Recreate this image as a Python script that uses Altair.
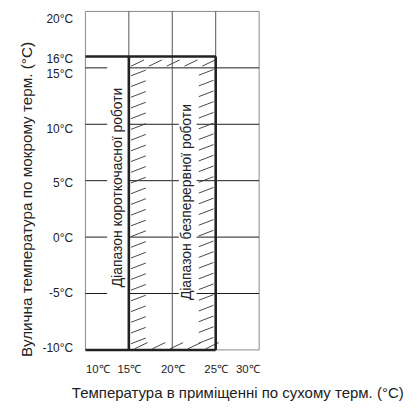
import altair as alt
import pandas as pd

# ---- data ----
x_ticks = [10, 15, 20, 25, 30]
y_ticks = [20, 16, 15, 10, 5, 0, -5, -10]
h_grid = [15, 10, 5, 0, -5]
v_grid = [15, 20, 25]
x_domain = [10, 30]
y_domain = [-10, 20]
short_range_x = [10, 15]      # short-term operation
cont_range_x = [15, 25]       # continuous operation (hatched)
range_y = [-10, 16]
range_labels = ["Діапазон короткочасної роботи", "Діапазон безперервної роботи"]
label_x = [13.77, 21.66]
label_y = [4.4, 3.1]
x_title = "Температура в приміщенні по сухому терм. (°C)"
y_title = "Вулична температура по мокрому терм. (°C)"

FONT = "Liberation Sans, Arial, sans-serif"

xs = alt.Scale(domain=x_domain, nice=False, zero=False)
ys = alt.Scale(domain=y_domain, nice=False, zero=False)

x_axis = alt.Axis(values=x_ticks, labelExpr="datum.value + '℃'", grid=False, domain=False,
                  ticks=False, labelPadding=14, labelFont=FONT, labelFontSize=11.5,
                  labelColor="#222", labelOverlap=False,
                  title=x_title, titleFont=FONT, titleFontSize=15.1,
                  titleFontWeight="normal", titleColor="#222", titleX=153, titleY=48,
                  titleAlign="center", titleBaseline="alphabetic", titleAngle=0)
y_axis = alt.Axis(values=y_ticks, labelExpr="datum.value + '°C'", grid=False, domain=False,
                  ticks=False, labelPadding=13, labelFont=FONT, labelFontSize=12,
                  labelColor="#222",
                  labelOffset={"expr": "datum.value == 16 ? 2 : 0.33*datum.value + 0.7"},
                  labelOverlap=False,
                  title=y_title, titleFont=FONT, titleFontSize=15.4,
                  titleFontWeight="normal", titleColor="#222", titleX=-54, titleY=189,
                  titleAlign="center", titleBaseline="alphabetic", titleAngle=270)

# segments
frame = pd.DataFrame([
    dict(x=x_domain[0], x2=x_domain[0], y=y_domain[0], y2=y_domain[1]),
    dict(x=x_domain[1], x2=x_domain[1], y=y_domain[0], y2=y_domain[1]),
    dict(x=x_domain[0], x2=x_domain[1], y=y_domain[1], y2=y_domain[1]),
    dict(x=x_domain[0], x2=x_domain[1], y=y_domain[0], y2=y_domain[0]),
])
hg = pd.DataFrame([dict(x=x_domain[0], x2=x_domain[1], y=v, y2=v) for v in h_grid])
vg = pd.DataFrame([dict(x=v, x2=v, y=y_domain[0], y2=y_domain[1]) for v in v_grid])
thick = pd.DataFrame([
    dict(x=short_range_x[0], x2=cont_range_x[1], y=range_y[1], y2=range_y[1]),
    dict(x=short_range_x[0], x2=cont_range_x[1], y=range_y[0], y2=range_y[0]),
    dict(x=cont_range_x[0], x2=cont_range_x[0], y=range_y[0], y2=range_y[1]),
    dict(x=cont_range_x[1], x2=cont_range_x[1], y=range_y[0], y2=range_y[1]),
])

# hatch strokes along the border of the continuous range
hatch = []
x0, x1 = cont_range_x
y0, y1 = range_y
yy = y0 + 0.55
while yy < y1 - 1.6:
    hatch.append(dict(x=x0 + 0.25, x2=x0 + 1.95, y=yy, y2=yy + 0.5))
    hatch.append(dict(x=x1 - 1.95, x2=x1 - 0.25, y=yy + 0.05, y2=yy + 0.55))
    yy += 0.95
xx = x0 + 0.25
while xx < x1 - 1.0:
    hatch.append(dict(x=xx, x2=xx + 1.5, y=y1 - 0.85, y2=y1 - 0.3))
    hatch.append(dict(x=xx + 0.4, x2=xx + 1.9, y=y0 + 0.1, y2=y0 + 0.65))
    xx += 2.05
hatch = pd.DataFrame(hatch)

masks = pd.DataFrame([
    dict(x=12.5, x2=15, y=-6.2, y2=15.3),
    dict(x=20.75, x2=22.8, y=-6.6, y2=12.8),
])
texts = pd.DataFrame(dict(x=label_x, y=label_y, t=range_labels))


def rules(df, color, width):
    return alt.Chart(df).mark_rule(color=color, strokeWidth=width).encode(
        x=alt.X("x:Q", scale=xs, axis=x_axis), x2="x2:Q",
        y=alt.Y("y:Q", scale=ys, axis=y_axis), y2="y2:Q")


layer = alt.layer(
    rules(frame, "#8a8a8a", 1),
    rules(hg, "#1a1a1a", 1),
    rules(vg, "#555555", 1),
    rules(hatch, "#333333", 0.9),
    alt.Chart(masks).mark_rect(color="white").encode(
        x=alt.X("x:Q", scale=xs, axis=x_axis), x2="x2:Q",
        y=alt.Y("y:Q", scale=ys, axis=y_axis), y2="y2:Q"),
    rules(thick, "#222222", 2.6),
    alt.Chart(texts).mark_text(angle=270, font=FONT, fontSize=14, color="#222",
                               align="center", baseline="middle").encode(
        x=alt.X("x:Q", scale=xs, axis=x_axis),
        y=alt.Y("y:Q", scale=ys, axis=y_axis), text="t:N"),
).properties(
    width=175, height=341,
    autosize=alt.AutoSizeParams(type="none"),
    padding={"left": 78, "top": 2, "right": 152, "bottom": 52},
).configure_view(stroke=None)

chart = layer
chart.save("out.html", embed_options={"renderer": "svg", "actions": False})
